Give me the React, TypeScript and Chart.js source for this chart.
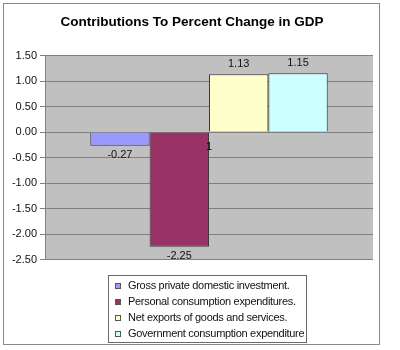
import React, { useEffect, useRef } from "react";
import { Chart, registerables } from "chart.js";

Chart.register(...registerables);

const categories = [""];
const seriesNames = [
  "Gross private domestic investment.",
  "Personal consumption expenditures.",
  "Net exports of goods and services.",
  "Government consumption expenditure",
];
const seriesValues = [[-0.27], [-2.25], [1.13], [1.15]];
const seriesColors = ["#9999FF", "#993366", "#FFFFCC", "#CCFFFF"];
const titleText = "Contributions To Percent Change in GDP";
const yMin = -2.5;
const yMax = 1.5;
const yStep = 0.5;
const strayLabel = "1";

const FONT = "'Liberation Sans', Arial, sans-serif";

const decorPlugin = {
  id: "decor",
  beforeDraw(chart: any) {
    const { ctx, chartArea } = chart;
    ctx.save();
    ctx.fillStyle = "#ffffff";
    ctx.fillRect(0, 0, chart.width, chart.height);
    ctx.fillStyle = "#C0C0C0";
    ctx.fillRect(chartArea.left, chartArea.top, chartArea.right - chartArea.left, chartArea.bottom - chartArea.top);
    ctx.restore();
  },
  afterDraw(chart: any) {
    const { ctx } = chart;
    ctx.save();
    // outer frame
    ctx.strokeStyle = "#8a8a8a";
    ctx.lineWidth = 1;
    ctx.strokeRect(3.5, 3.5, 376, 341);
    // title
    ctx.fillStyle = "#000";
    ctx.font = `bold 13.5px ${FONT}`;
    ctx.textAlign = "center";
    ctx.textBaseline = "middle";
    ctx.fillText(titleText, 192, 22);
    // legend
    const lx = 108.5, ly = 275.5, lw = 198, lh = 67;
    ctx.strokeStyle = "#6a6a6a";
    ctx.strokeRect(lx, ly, lw, lh);
    ctx.font = `11px ${FONT}`;
    (ctx as any).letterSpacing = "-0.3px";
    ctx.textAlign = "left";
    ctx.textBaseline = "middle";
    chart.data.datasets.forEach((ds: any, i: number) => {
      const cy = 286 + i * 16;
      ctx.fillStyle = ds.backgroundColor;
      ctx.fillRect(115, Math.round(cy) - 3, 6, 6);
      ctx.strokeStyle = "#555";
      ctx.strokeRect(115.5, Math.round(cy) - 2.5, 5, 5);
      ctx.fillStyle = "#111";
      ctx.fillText(ds.label, 128, cy);
    });
    ctx.restore();
  },
  afterDatasetsDraw(chart: any) {
    const { ctx } = chart;
    ctx.save();
    ctx.font = `11px ${FONT}`;
    ctx.fillStyle = "#111";
    ctx.textAlign = "center";
    ctx.textBaseline = "middle";
    chart.data.datasets.forEach((ds: any, i: number) => {
      const meta = chart.getDatasetMeta(i);
      meta.data.forEach((bar: any, j: number) => {
        const v = ds.data[j];
        const y = v < 0 ? bar.y + 9 : bar.y - 10;
        ctx.fillText(v.toFixed(2), bar.x, y);
      });
    });
    // stray label seen next to the second bar
    const m = chart.getDatasetMeta(1).data[0] as any;
    const zero = chart.scales.y.getPixelForValue(0);
    ctx.fillStyle = "#000";
    ctx.fillText(strayLabel, m.x + m.width / 2, zero + 15);
    ctx.restore();
  },
};

export default function App() {
  const ref = useRef<HTMLCanvasElement>(null);
  useEffect(() => {
    document.body.style.margin = "0";
    const chart = new Chart(ref.current!, {
      type: "bar",
      data: {
        labels: categories,
        datasets: seriesNames.map((name, i) => ({
          label: name,
          data: seriesValues[i],
          backgroundColor: seriesColors[i],
          borderColor: "#3a3a3a",
          borderWidth: 1,
          categoryPercentage: 0.724,
          barPercentage: 1,
        })),
      },
      options: {
        animation: false,
        responsive: false,
        devicePixelRatio: 1,
        layout: { padding: { top: 55.5, bottom: 90.5, left: 0, right: 27 } },
        plugins: {
          legend: { display: false },
          title: { display: false },
          tooltip: { enabled: false },
        },
        scales: {
          x: { display: false },
          y: {
            min: yMin,
            max: yMax,
            afterFit(scale: any) {
              scale.width = 45;
            },
            ticks: {
              stepSize: yStep,
              padding: 3,
              color: "#111",
              font: { family: FONT, size: 11 },
              callback: (v: any) => Number(v).toFixed(2),
            },
            grid: { color: "#808080", tickLength: 5, drawTicks: true },
            border: { display: true, color: "#808080" },
          },
        },
      },
      plugins: [decorPlugin],
    });
    return () => chart.destroy();
  }, []);
  return (
    <div style={{ position: "absolute", left: 0, top: 0, width: 400, height: 350 }}>
      <canvas ref={ref} width={400} height={350} />
    </div>
  );
}
